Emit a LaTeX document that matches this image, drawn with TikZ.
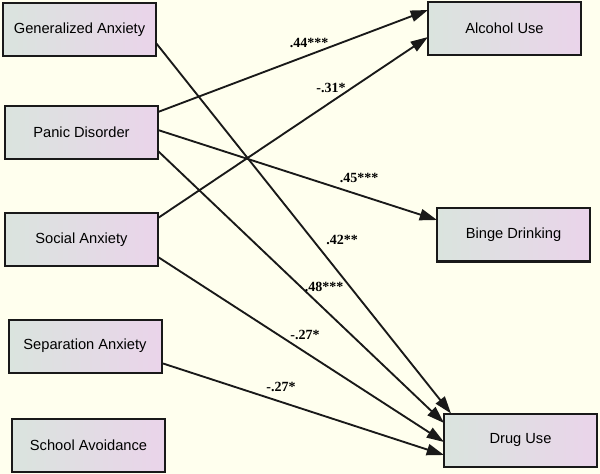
\documentclass[tikz,border=0pt]{standalone}
\usepackage{fontspec}
\setmainfont{Liberation Serif}
\newfontfamily\boxfont{Liberation Sans}
\usetikzlibrary{calc,arrows.meta}
\definecolor{bgcol}{RGB}{255,255,238}
\definecolor{boxL}{RGB}{218,228,222}
\definecolor{boxR}{RGB}{234,212,234}
\definecolor{edgecol}{RGB}{25,25,25}
\tikzset{
  var/.style={draw=edgecol, line width=1.5pt, left color=boxL, right color=boxR,
    minimum width=114.75pt, minimum height=39.75pt, inner sep=0pt, outer sep=0pt,
    font=\boxfont\fontsize{11}{13}\selectfont},
  path/.style={draw=edgecol, line width=1.4pt, -{Triangle[length=13pt,width=8.5pt]}},
  coef/.style={font=\bfseries\fontsize{10.5}{12}\selectfont, inner sep=0pt}
}
\begin{document}
\begin{tikzpicture}[x=0.75pt,y=-0.75pt]
\fill[bgcol] (0,0) rectangle (600,474);
\useasboundingbox (0,0) rectangle (600,474);
\node[var] (ga) at (79.5,29.5) {Generalized Anxiety};
\node[var] (pd) at (81.5,132.5) {Panic Disorder};
\node[var] (sa) at (81.5,239.5) {Social Anxiety};
\node[var] (sep) at (85,346) {Separation Anxiety};
\node[var] (sch) at (88.5,445) {School Avoidance};
\node[var] (al) at (504.5,28.5) {Alcohol Use};
\node[var] (bd) at (513.5,235) {Binge Drinking};
\node[var] (du) at (520.5,440) {Drug Use};

\draw[path] ($(ga.east)+(0,13.5)$) -- ($(du.north west)+(7,0)$);
\draw[path] ($(pd.east)+(0,-20.5)$) -- ($(al.west)+(0,-18.5)$);
\draw[path] ($(pd.east)+(0,-2.5)$) -- ($(bd.west)+(0,-15)$);
\draw[path] ($(pd.east)+(0,18.5)$) -- ($(du.west)+(0,-17)$);
\draw[path] ($(sa.east)+(0,-21.5)$) -- ($(al.west)+(0,8.5)$);
\draw[path] ($(sa.east)+(0,17.5)$) -- ($(du.west)+(0,2)$);
\draw[path] ($(sep.east)+(0,17)$) -- ($(du.west)+(0,15)$);

\node[coef] (l1) at (309,43) {.44***};
\node[coef] (l2) at (331,88) {-.31*};
\node[coef] (l3) at (359,178) {.45***};
\node[coef] (l4) at (342,240) {.42**};
\node[coef] (l5) at (324,287) {.48***};
\node[coef] (l6) at (305,335) {-.27*};
\node[coef] (l7) at (281,387) {-.27*};
\end{tikzpicture}
\end{document}
